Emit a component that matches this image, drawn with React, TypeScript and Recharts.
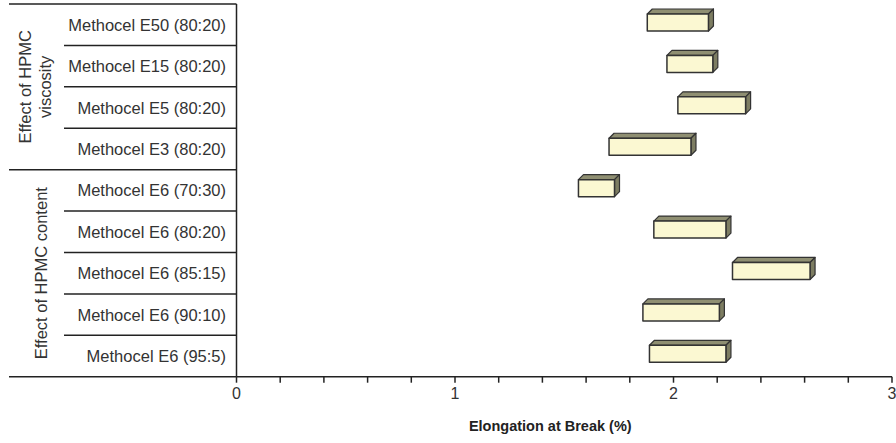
import { Bar, BarChart, XAxis, YAxis } from "recharts";

const categories = [
  "Methocel E50 (80:20)",
  "Methocel E15 (80:20)",
  "Methocel E5 (80:20)",
  "Methocel E3 (80:20)",
  "Methocel E6 (70:30)",
  "Methocel E6 (80:20)",
  "Methocel E6 (85:15)",
  "Methocel E6 (90:10)",
  "Methocel E6 (95:5)",
];
const lowValues = [1.88, 1.97, 2.02, 1.705, 1.565, 1.91, 2.27, 1.86, 1.89];
const highValues = [2.16, 2.18, 2.33, 2.08, 1.73, 2.24, 2.625, 2.21, 2.24];
const xTicks = [0, 0.2, 0.4, 0.6, 0.8, 1, 1.2, 1.4, 1.6, 1.8, 2, 2.2, 2.4, 2.6, 2.8, 3];
const groupLabels = [["Effect of HPMC", "viscosity"], ["Effect of HPMC content"]];

const data = categories.map((name, i) => ({ name, range: [lowValues[i], highValues[i]] }));

const W = 896;
const H = 443;
const TOP = 4;
const AXIS_H = 66.3;
const Y_W = 236.5;
const ROW_H = (H - TOP - AXIS_H) / categories.length;
const FONT = "'Liberation Sans', Arial, sans-serif";
const LINE = "#222";

function Box3D(props: any) {
  const { x, y, width, height } = props;
  const d = 5;
  const fy = y - 2;
  return (
    <g stroke="#333" strokeWidth={1.2} strokeLinejoin="round">
      <polygon
        points={`${x},${fy} ${x + d},${fy - d} ${x + width + d},${fy - d} ${x + width},${fy}`}
        fill="#8f8f72"
      />
      <polygon
        points={`${x + width},${fy} ${x + width + d},${fy - d} ${x + width + d},${fy + height - d} ${x + width},${fy + height}`}
        fill="#7d7d62"
      />
      <rect x={x} y={fy} width={width} height={height} fill="#fbf8d2" strokeWidth={1.5} />
    </g>
  );
}

function CategoryTick(props: any) {
  const { y, payload } = props;
  const i = payload.index ?? props.index;
  const top = y - ROW_H / 2;
  const bottom = y + ROW_H / 2;
  const bottomStart = i === 3 || i === categories.length - 1 ? 9 : 64;
  return (
    <g>
      <text x={Y_W - 10.5} y={y} textAnchor="end" dominantBaseline="central" fontFamily={FONT} fontSize={16.5} fill="#333">
        {payload.value}
      </text>
      {i === 0 && <line x1={9} x2={Y_W} y1={top} y2={top} stroke={LINE} strokeWidth={1.5} />}
      <line x1={bottomStart} x2={Y_W} y1={bottom} y2={bottom} stroke={LINE} strokeWidth={1.5} />
      {i === 0 &&
        groupLabels[0].map((t, k) => (
          <text
            key={t}
            x={25 + k * 20}
            y={top + 2 * ROW_H}
            transform={`rotate(-90, ${25 + k * 20}, ${top + 2 * ROW_H})`}
            textAnchor="middle"
            dominantBaseline="central"
            fontFamily={FONT}
            fontSize={16.5}
            fill="#333"
          >
            {t}
          </text>
        ))}
      {i === 4 && (
        <text
          x={41}
          y={top + 2.5 * ROW_H}
          transform={`rotate(-90, 41, ${top + 2.5 * ROW_H})`}
          textAnchor="middle"
          dominantBaseline="central"
          fontFamily={FONT}
          fontSize={16.5}
          fill="#333"
        >
          {groupLabels[1][0]}
        </text>
      )}
    </g>
  );
}

export default function App() {
  return (
    <div style={{ position: "absolute", left: 0, top: 0, background: "#fff" }}>
      <BarChart
        width={W}
        height={H}
        data={data}
        layout="vertical"
        margin={{ top: TOP, right: 4, bottom: 0, left: 0 }}
        barCategoryGap={0}
      >
        <XAxis
          type="number"
          domain={[0, 3]}
          ticks={xTicks}
          interval={0}
          height={AXIS_H}
          stroke={LINE}
          strokeWidth={1.5}
          tickSize={6}
          tick={{ fill: "#333", fontFamily: FONT, fontSize: 16, dy: 3 }}
          tickFormatter={(v: number) => (Number.isInteger(Math.round(v * 1000) / 1000) ? String(v) : "")}
          label={{
            value: "Elongation at Break (%)",
            position: "insideBottom",
            offset: 12,
            dx: -14,
            fill: "#222",
            fontFamily: FONT,
            fontSize: 14.5,
            fontWeight: "bold",
          }}
        />
        <YAxis
          type="category"
          dataKey="name"
          width={Y_W}
          stroke={LINE}
          strokeWidth={1.5}
          tickLine={false}
          tick={<CategoryTick />}
          interval={0}
        />
        <Bar dataKey="range" barSize={17} shape={<Box3D />} isAnimationActive={false} />
      </BarChart>
    </div>
  );
}
